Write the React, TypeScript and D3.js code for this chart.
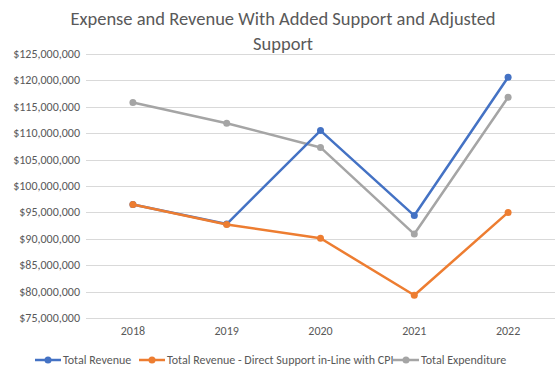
import React from "react";
import * as d3 from "d3";

const years = ["2018", "2019", "2020", "2021", "2022"];
const totalRevenue = [96.5, 92.8, 110.5, 94.4, 120.6];
const revenueCPI = [96.5, 92.7, 90.1, 79.3, 95.0];
const totalExpenditure = [115.8, 111.9, 107.3, 90.9, 116.8];
const yTicks = [75, 80, 85, 90, 95, 100, 105, 110, 115, 120, 125];
const seriesNames = ["Total Revenue", "Total Revenue - Direct Support in-Line with CPI", "Total Expenditure"];
const colors = ["#4472C4", "#ED7D31", "#A5A5A5"];

const W = 555, H = 376;
const margin = { left: 86, right: 0, top: 54, bottom: 58 };
const font = "Calibri, Carlito, 'Open Sans', sans-serif";

export default function App() {
  const x = d3.scaleBand<string>().domain(years).range([margin.left, W - margin.right]);
  const y = d3.scaleLinear().domain([75, 125]).range([H - margin.bottom, margin.top]);
  const fmt = (v: number) => "$" + d3.format(",")(v * 1e6);
  const line = d3.line<number>().x((_, i) => x(years[i])! + x.bandwidth() / 2).y((d) => y(d));
  const data = [totalRevenue, revenueCPI, totalExpenditure];
  const drawOrder = [2, 0, 1];
  const legendX = [35, 139, 393];
  return (
    <svg width={W} height={H} style={{ position: "absolute", left: 0, top: 0 }} fontFamily={font}>
      <rect width={W} height={H} fill="#fff" />
      <text x={283} y={25} textAnchor="middle" fontSize={18.5} fill="#595959">Expense and Revenue With Added Support and Adjusted</text>
      <text x={283} y={50} textAnchor="middle" fontSize={18.5} fill="#595959">Support</text>
      {yTicks.map((t) => (
        <g key={t}>
          <line x1={margin.left} x2={W - margin.right} y1={Math.round(y(t)) + 0.5} y2={Math.round(y(t)) + 0.5} stroke="#D9D9D9" strokeWidth={1} />
          <text x={80} y={y(t) + 4} textAnchor="end" fontSize={12} fill="#595959">{fmt(t)}</text>
        </g>
      ))}
      {years.map((yr) => (
        <text key={yr} x={x(yr)! + x.bandwidth() / 2} y={H - margin.bottom + 17} textAnchor="middle" fontSize={12} fill="#595959">{yr}</text>
      ))}
      {drawOrder.map((si) => (
        <g key={si}>
          <path d={line(data[si]) || ""} fill="none" stroke={colors[si]} strokeWidth={2.5} strokeLinejoin="round" />
          {data[si].map((v, i) => (
            <circle key={i} cx={x(years[i])! + x.bandwidth() / 2} cy={y(v)} r={3.5} fill={colors[si]} />
          ))}
        </g>
      ))}
      {seriesNames.map((n, i) => (
        <g key={n}>
          <line x1={legendX[i]} x2={legendX[i] + 26} y1={360} y2={360} stroke={colors[i]} strokeWidth={2.5} />
          <circle cx={legendX[i] + 13} cy={360} r={3.5} fill={colors[i]} />
          <text x={legendX[i] + 28} y={364} fontSize={12} fill="#595959">{n}</text>
        </g>
      ))}
    </svg>
  );
}
